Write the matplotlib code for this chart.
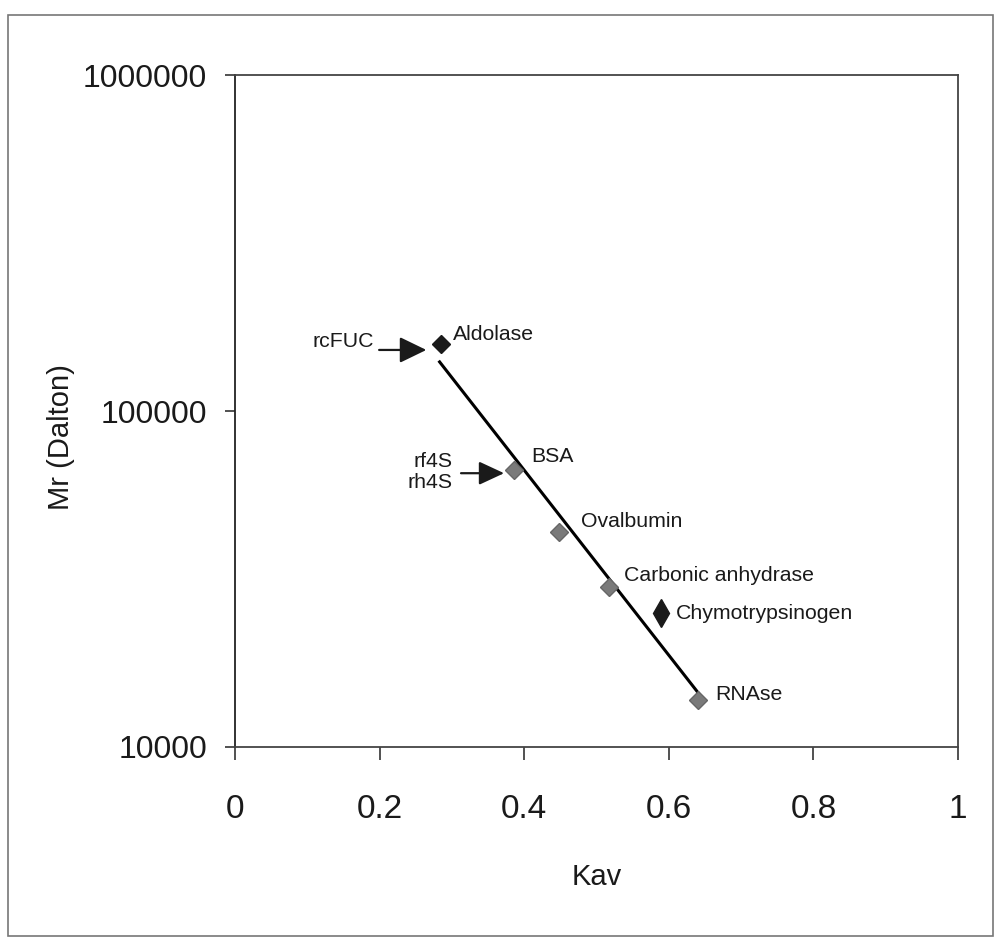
import matplotlib.pyplot as plt
from matplotlib.patches import Rectangle
from matplotlib.transforms import offset_copy

plt.rcParams['font.family'] = ['Liberation Sans', 'DejaVu Sans']

# calibration standards (grey) and black markers
std_names = ["BSA", "Ovalbumin", "Carbonic anhydrase", "RNAse"]
std_kav = [0.386, 0.448, 0.517, 0.641]
std_mr = [66800, 43700, 29900, 13800]

blk_names = ["Aldolase", "Chymotrypsinogen"]
blk_kav = [0.285, 0.589]
blk_mr = [158000, 25000]

# fitted line end points
fit_kav = [0.283, 0.645]
fit_mr = [140000, 14100]

xticks = [0, 0.2, 0.4, 0.6, 0.8, 1]
yticks = [10000, 100000, 1000000]

fig = plt.figure(figsize=(9.95, 9.39), dpi=100)
ax = fig.add_axes([0.2362, 0.2045, 0.7266, 0.7156])

ax.plot(fit_kav, fit_mr, color='black', lw=2.2, zorder=2)
ax.plot(std_kav, std_mr, 'D', color='#7a7a7a', mec='#666666', ms=9, zorder=3, ls='none')
ax.plot(blk_kav[:1], blk_mr[:1], 'D', color='#1a1a1a', ms=9, zorder=3, ls='none')
ax.plot(blk_kav[1:], blk_mr[1:], 'd', color='#1a1a1a', ms=14, zorder=3, ls='none')

ax.set_yscale('log')
ax.set_xlim(0, 1)
ax.set_ylim(10000, 1000000)
ax.set_xticks(xticks)
ax.set_xticklabels(['0', '0.2', '0.4', '0.6', '0.8', '1'])
ax.set_yticks(yticks)
ax.set_yticklabels(['10000', '100000', '1000000'])
ax.minorticks_off()
ax.tick_params(axis='x', direction='out', length=9, width=1.2, colors='#333333',
               labelsize=24, pad=25, labelcolor='#1a1a1a')
ax.tick_params(axis='y', direction='out', length=7, width=1.2, colors='#333333',
               labelsize=23, pad=13, labelcolor='#1a1a1a')
for sp in ax.spines.values():
    sp.set_color('#444444')
    sp.set_linewidth(1.3)
ax.spines['left'].set_color('#222222')

ax.set_xlabel("Kav", fontsize=21, labelpad=27, color='#1a1a1a')
ax.set_ylabel("Mr (Dalton)", fontsize=21, color='#1a1a1a')
ax.yaxis.set_label_coords(-0.221, 0.461)

# point labels
lab_off = {"BSA": (12, 9.6), "Ovalbumin": (15.6, 7.2), "Carbonic anhydrase": (10.8, 8.6),
           "RNAse": (12, 3.6), "Aldolase": (8.4, 6.7), "Chymotrypsinogen": (10.8, 0)}
for n, x, y in zip(std_names + blk_names, std_kav + blk_kav, std_mr + blk_mr):
    ax.annotate(n, (x, y), xytext=lab_off[n], textcoords='offset points',
                ha='left', va='center', fontsize=15.3, color='#1a1a1a')

# arrows
tip1 = offset_copy(ax.transData, fig=fig, x=-10.6, y=-4.1, units='points')
ax.annotate("", xy=(blk_kav[0], blk_mr[0]), xycoords=tip1, xytext=(-34, 0),
            textcoords='offset points',
            arrowprops=dict(arrowstyle='-|>,head_length=1.65,head_width=0.8', color='#1a1a1a',
                            lw=1.6, mutation_scale=10, shrinkA=0, shrinkB=0))
ax.annotate("rcFUC", (blk_kav[0], blk_mr[0]), xytext=(-48, 1.7), textcoords='offset points',
            ha='right', va='center', fontsize=15.3, color='#1a1a1a')

tip2 = offset_copy(ax.transData, fig=fig, x=-7.2, y=-2.4, units='points')
ax.annotate("", xy=(std_kav[0], std_mr[0]), xycoords=tip2, xytext=(-31, 0),
            textcoords='offset points',
            arrowprops=dict(arrowstyle='-|>,head_length=1.55,head_width=0.72', color='#1a1a1a',
                            lw=1.6, mutation_scale=10, shrinkA=0, shrinkB=0))
ax.annotate("rf4S", (std_kav[0], std_mr[0]), xytext=(-44.6, 6), textcoords='offset points',
            ha='right', va='center', fontsize=15.3, color='#1a1a1a')
ax.annotate("rh4S", (std_kav[0], std_mr[0]), xytext=(-44.6, -9.4), textcoords='offset points',
            ha='right', va='center', fontsize=15.3, color='#1a1a1a')

# outer frame
fig.patches.append(Rectangle((0.008, 0.003), 0.99, 0.981, transform=fig.transFigure,
                             fill=False, edgecolor='#777777', lw=1.2))

fig.savefig("out.png", dpi=100)
